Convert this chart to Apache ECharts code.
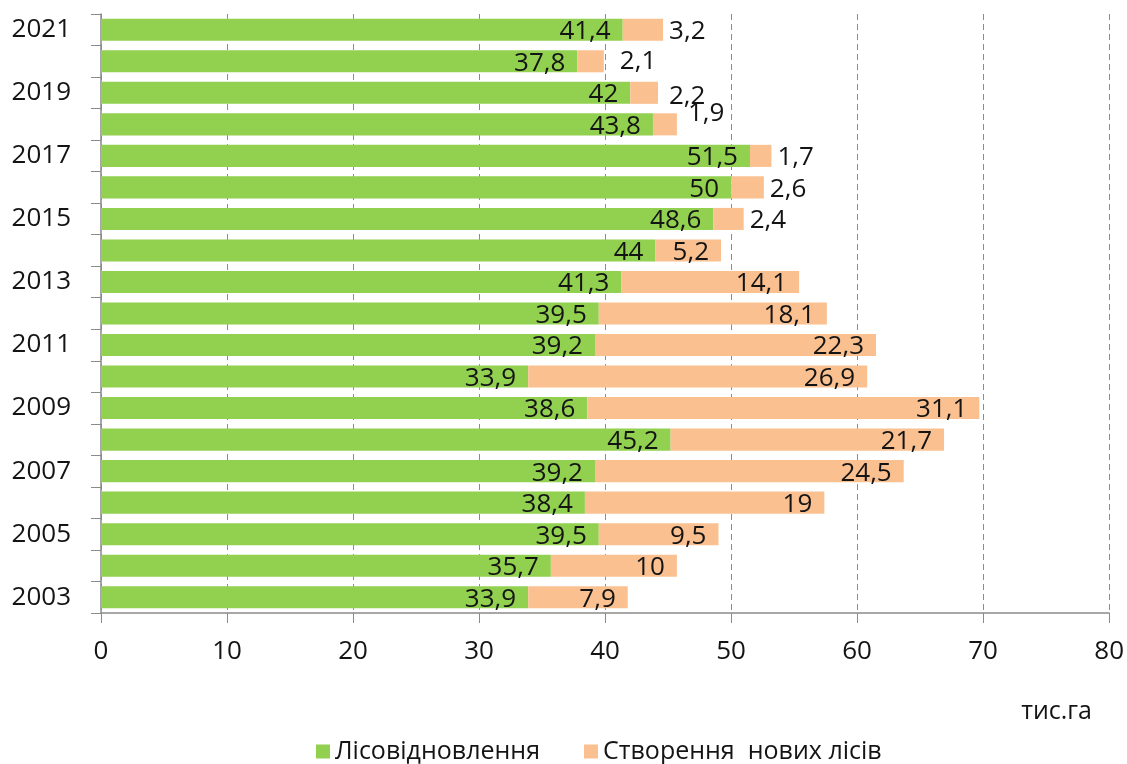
<!DOCTYPE html>
<html>
<head>
<meta charset="utf-8">
<script src="https://cdn.jsdelivr.net/npm/echarts@6/dist/echarts.min.js"></script>
<style>
  html, body { margin: 0; padding: 0; background: #fff; }
  #chart { width: 1127px; height: 764px; }
</style>
</head>
<body>
<div id="chart"></div>
<script>
// роки знизу вгору
const years = ['2003', '2004', '2005', '2006', '2007', '2008', '2009', '2010', '2011', '2012',
  '2013', '2014', '2015', '2016', '2017', '2018', '2019', '2020', '2021']
const reforestation = [33.9, 35.7, 39.5, 38.4, 39.2, 45.2, 38.6, 33.9, 39.2, 39.5,
  41.3, 44, 48.6, 50, 51.5, 43.8, 42, 37.8, 41.4]
const newForests = [7.9, 10, 9.5, 19, 24.5, 21.7, 31.1, 26.9, 22.3, 18.1,
  14.1, 5.2, 2.4, 2.6, 1.7, 1.9, 2.2, 2.1, 3.2]
const xTicks = [0, 10, 20, 30, 40, 50, 60, 70, 80]

const FONT = '"Open Sans", "Noto Sans", sans-serif'
const TXT = '#141414'
const fmt = p => String(p.value).replace('.', ',')

// ручні зсуви підписів як в оригіналі
const smallLabelOffset = { '2020': [10, 0], '2019': [5, 4], '2018': [5, -11] }

const chart = echarts.init(document.getElementById('chart'))

chart.setOption({
  animation: false,
  textStyle: { fontFamily: FONT },
  grid: { left: 101, right: 17, top: 14, bottom: 151 },
  legend: {
    left: 311,
    top: 734,
    icon: 'rect',
    itemWidth: 14,
    itemHeight: 14,
    itemGap: 44,
    textStyle: { fontSize: 25, color: TXT, fontFamily: FONT },
    data: ['Лісовідновлення', 'Створення  нових лісів']
  },
  graphic: [{
    type: 'text',
    right: 35,
    top: 699,
    style: { text: 'тис.га', fontSize: 25, fill: TXT, fontFamily: FONT }
  }],
  xAxis: {
    type: 'value',
    min: xTicks[0],
    max: xTicks[xTicks.length - 1],
    interval: 10,
    axisLine: { show: true, lineStyle: { color: '#8a8a8a', width: 1.5 } },
    axisTick: { show: true, length: 10, lineStyle: { color: '#8a8a8a' } },
    axisLabel: { fontSize: 26, color: TXT, margin: 26 },
    splitLine: { show: true, lineStyle: { color: '#8c8c8c', type: [6, 4], width: 1 } }
  },
  yAxis: {
    type: 'category',
    data: years,
    axisLine: { show: true, lineStyle: { color: '#8a8a8a', width: 1.5 } },
    axisTick: { show: true, length: 10, interval: 0, lineStyle: { color: '#8a8a8a' } },
    axisLabel: { fontSize: 26, color: TXT, margin: 30, interval: 1 },
    splitLine: { show: false }
  },
  series: [
    {
      name: 'Лісовідновлення',
      type: 'bar',
      stack: 'total',
      barCategoryGap: '30%',
      itemStyle: { color: '#92D050' },
      label: {
        show: true,
        position: 'insideRight',
        distance: 12,
        offset: [0, 2],
        fontSize: 26,
        color: TXT,
        formatter: fmt
      },
      data: reforestation
    },
    {
      name: 'Створення  нових лісів',
      type: 'bar',
      stack: 'total',
      barCategoryGap: '30%',
      itemStyle: { color: '#FAC090' },
      label: {
        show: true,
        position: 'insideRight',
        distance: 12,
        offset: [0, 2],
        fontSize: 26,
        color: TXT,
        formatter: fmt
      },
      data: newForests.map((v, i) => {
        if (v >= 4) return v
        return {
          value: v,
          label: { position: 'right', distance: 6, offset: smallLabelOffset[years[i]] || [0, 2] }
        }
      })
    }
  ]
})
</script>
</body>
</html>
